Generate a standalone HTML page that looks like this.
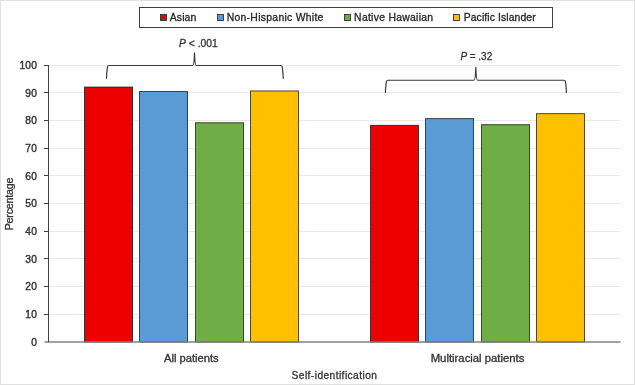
<!DOCTYPE html>
<html><head><meta charset="utf-8"><title>Chart</title>
<style>html,body{margin:0;padding:0;background:#fdfefd;width:635px;height:385px;overflow:hidden}svg{display:block;will-change:transform}</style>
</head><body><svg width="635" height="385" viewBox="0 0 635 385" font-family='"Liberation Sans", sans-serif' font-size="10.6" fill="#333333"><style>text{stroke:#333333;stroke-width:0.3px}</style><rect x="0.5" y="0.5" width="634" height="384" fill="#fdfefd" stroke="#e0e0e0" stroke-width="1"/><line x1="49" y1="314.5" x2="620.5" y2="314.5" stroke="#e8e8e8" stroke-width="1"/><line x1="49" y1="286.5" x2="620.5" y2="286.5" stroke="#e8e8e8" stroke-width="1"/><line x1="49" y1="258.5" x2="620.5" y2="258.5" stroke="#e8e8e8" stroke-width="1"/><line x1="49" y1="231.5" x2="620.5" y2="231.5" stroke="#e8e8e8" stroke-width="1"/><line x1="49" y1="203.5" x2="620.5" y2="203.5" stroke="#e8e8e8" stroke-width="1"/><line x1="49" y1="175.5" x2="620.5" y2="175.5" stroke="#e8e8e8" stroke-width="1"/><line x1="49" y1="148.5" x2="620.5" y2="148.5" stroke="#e8e8e8" stroke-width="1"/><line x1="49" y1="120.5" x2="620.5" y2="120.5" stroke="#e8e8e8" stroke-width="1"/><line x1="49" y1="92.5" x2="620.5" y2="92.5" stroke="#e8e8e8" stroke-width="1"/><line x1="49" y1="65.5" x2="620.5" y2="65.5" stroke="#e8e8e8" stroke-width="1"/><rect x="84.50" y="87.07" width="48" height="254.93" fill="#ec0000" stroke="#000" stroke-opacity="0.68" stroke-width="1"/><rect x="139.50" y="91.49" width="48" height="250.51" fill="#5b9bd5" stroke="#000" stroke-opacity="0.68" stroke-width="1"/><rect x="195.50" y="122.74" width="48" height="219.26" fill="#70ad47" stroke="#000" stroke-opacity="0.68" stroke-width="1"/><rect x="250.50" y="90.94" width="48" height="251.06" fill="#ffc000" stroke="#000" stroke-opacity="0.68" stroke-width="1"/><rect x="370.50" y="125.36" width="48" height="216.64" fill="#ec0000" stroke="#000" stroke-opacity="0.68" stroke-width="1"/><rect x="425.50" y="118.59" width="48" height="223.41" fill="#5b9bd5" stroke="#000" stroke-opacity="0.68" stroke-width="1"/><rect x="481.50" y="124.67" width="48" height="217.33" fill="#70ad47" stroke="#000" stroke-opacity="0.68" stroke-width="1"/><rect x="536.50" y="113.61" width="48" height="228.39" fill="#ffc000" stroke="#000" stroke-opacity="0.68" stroke-width="1"/><line x1="44.5" y1="342" x2="620.5" y2="342" stroke="#808080" stroke-width="1.6"/><line x1="48.5" y1="65" x2="48.5" y2="342" stroke="#404040" stroke-width="1"/><text x="36.9" y="345.60" text-anchor="end" font-size="10.2" textLength="5.80" lengthAdjust="spacing" style="stroke-width:0.4px">0</text><line x1="44" y1="314.5" x2="48.5" y2="314.5" stroke="#404040" stroke-width="1"/><text x="36.9" y="317.95" text-anchor="end" font-size="10.2" textLength="11.60" lengthAdjust="spacing" style="stroke-width:0.4px">10</text><line x1="44" y1="286.5" x2="48.5" y2="286.5" stroke="#404040" stroke-width="1"/><text x="36.9" y="290.30" text-anchor="end" font-size="10.2" textLength="11.60" lengthAdjust="spacing" style="stroke-width:0.4px">20</text><line x1="44" y1="258.5" x2="48.5" y2="258.5" stroke="#404040" stroke-width="1"/><text x="36.9" y="262.65" text-anchor="end" font-size="10.2" textLength="11.60" lengthAdjust="spacing" style="stroke-width:0.4px">30</text><line x1="44" y1="231.5" x2="48.5" y2="231.5" stroke="#404040" stroke-width="1"/><text x="36.9" y="235.00" text-anchor="end" font-size="10.2" textLength="11.60" lengthAdjust="spacing" style="stroke-width:0.4px">40</text><line x1="44" y1="203.5" x2="48.5" y2="203.5" stroke="#404040" stroke-width="1"/><text x="36.9" y="207.35" text-anchor="end" font-size="10.2" textLength="11.60" lengthAdjust="spacing" style="stroke-width:0.4px">50</text><line x1="44" y1="175.5" x2="48.5" y2="175.5" stroke="#404040" stroke-width="1"/><text x="36.9" y="179.70" text-anchor="end" font-size="10.2" textLength="11.60" lengthAdjust="spacing" style="stroke-width:0.4px">60</text><line x1="44" y1="148.5" x2="48.5" y2="148.5" stroke="#404040" stroke-width="1"/><text x="36.9" y="152.05" text-anchor="end" font-size="10.2" textLength="11.60" lengthAdjust="spacing" style="stroke-width:0.4px">70</text><line x1="44" y1="120.5" x2="48.5" y2="120.5" stroke="#404040" stroke-width="1"/><text x="36.9" y="124.40" text-anchor="end" font-size="10.2" textLength="11.60" lengthAdjust="spacing" style="stroke-width:0.4px">80</text><line x1="44" y1="92.5" x2="48.5" y2="92.5" stroke="#404040" stroke-width="1"/><text x="36.9" y="96.75" text-anchor="end" font-size="10.2" textLength="11.60" lengthAdjust="spacing" style="stroke-width:0.4px">90</text><line x1="44" y1="65.5" x2="48.5" y2="65.5" stroke="#404040" stroke-width="1"/><text x="36.9" y="69.10" text-anchor="end" font-size="10.2" textLength="17.40" lengthAdjust="spacing" style="stroke-width:0.4px">100</text><rect x="139.5" y="7.5" width="413" height="20" fill="#fff" stroke="#404040" stroke-width="1"/><rect x="160.5" y="14.5" width="6" height="6" fill="#ec0000" stroke="#303030" stroke-width="0.9"/><rect x="217.5" y="14.5" width="6" height="6" fill="#5b9bd5" stroke="#303030" stroke-width="0.9"/><rect x="344.5" y="14.5" width="6" height="6" fill="#70ad47" stroke="#303030" stroke-width="0.9"/><rect x="453.5" y="14.5" width="6" height="6" fill="#ffc000" stroke="#303030" stroke-width="0.9"/><text x="169.7" y="20.7" textLength="26.6" lengthAdjust="spacing" font-size="10.4" fill="#262626" style="stroke:#262626">Asian</text><text x="226.7" y="20.7" textLength="96.7" lengthAdjust="spacing" font-size="10.4" fill="#262626" style="stroke:#262626">Non-Hispanic White</text><text x="354.1" y="20.7" textLength="79.0" lengthAdjust="spacing" font-size="10.4" fill="#262626" style="stroke:#262626">Native Hawaiian</text><text x="463.7" y="20.7" textLength="71.9" lengthAdjust="spacing" font-size="10.4" fill="#262626" style="stroke:#262626">Pacific Islander</text><path d="M106.5,78.3 C106.5,74.3 107.1,69.5 107.4,67.1 Q107.7,65.5 108.9,65.5 L192.7,65.5 Q194.1,65.5 194.5,52.4 Q194.9,65.5 196.3,65.5 L280.8,65.5 Q282.0,65.5 282.3,67.1 C282.59999999999997,69.5 283.2,74.3 283.2,78.3" fill="none" stroke="#383838" stroke-width="1.2" stroke-linecap="round"/><path d="M385.4,92.5 C385.4,88.5 386.0,84.25 386.29999999999995,81.85 Q386.59999999999997,80.25 387.79999999999995,80.25 L474.0,80.25 Q475.40000000000003,80.25 475.8,67.0 Q476.2,80.25 477.6,80.25 L564.0,80.25 Q565.1999999999999,80.25 565.5,81.85 C565.8,84.25 566.4,88.5 566.4,92.5" fill="none" stroke="#383838" stroke-width="1.2" stroke-linecap="round"/><text x="179" y="47.0" font-size="10.5" textLength="38.8" lengthAdjust="spacingAndGlyphs"><tspan font-style="italic">P</tspan> &lt; .001</text><text x="460.4" y="59.9" font-size="10.7" textLength="31.8" lengthAdjust="spacingAndGlyphs"><tspan font-style="italic">P</tspan> = .32</text><text x="164" y="361.6" font-size="10.0" textLength="54.7" lengthAdjust="spacingAndGlyphs">All patients</text><text x="430.7" y="361.6" font-size="10.0" textLength="93.7" lengthAdjust="spacingAndGlyphs">Multiracial patients</text><text x="291.6" y="378.9" font-size="10.2" textLength="85.3" lengthAdjust="spacing">Self-identification</text><text transform="translate(12.6,230.3) rotate(-90)" x="0" y="0" textLength="52.7" lengthAdjust="spacing">Percentage</text></svg></body></html>
